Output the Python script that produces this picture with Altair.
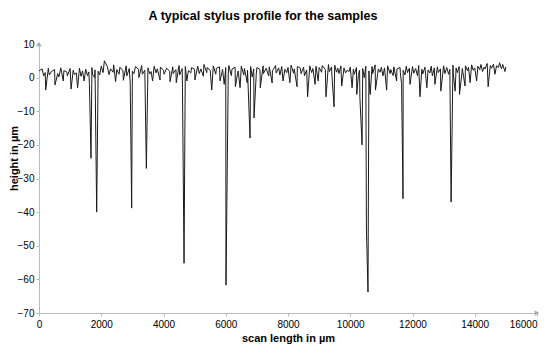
import altair as alt
import pandas as pd

# baseline profile sampled every 100 µm from 0 to 15000
base_x = list(range(0, 15001, 100))
base_y = [
    2.0, 2.6, 1.5, 2.8, 1.8, 2.4, 1.2, 2.9, 2.1, 1.6, 2.7,
    2.2, 1.4, 2.8, 2.0, 2.5, 1.7, 3.0, 2.3, 1.9, 3.4,
    5.0, 3.2, 2.6, 3.8, 2.4, 3.1, 2.0, 3.5, 2.7, 1.9,
    3.3, 2.5, 3.6, 2.2, 2.9, 1.8, 3.4, 2.6, 3.1, 2.2,
    2.8, 1.9, 3.2, 2.4, 3.6, 2.7, 3.3, 2.1, 3.0, 2.5,
    3.4, 2.6, 3.9, 3.0, 2.2, 3.5, 2.8, 3.2, 2.4, 3.0,
    3.6, 2.5, 3.1, 2.0, 3.4, 2.7, 2.2, 3.3, 2.6, 3.0,
    2.4, 3.5, 2.8, 3.2, 2.1, 3.6, 2.9, 3.3, 2.5, 3.0,
    3.7, 2.6, 3.3, 2.8, 3.1, 2.3, 3.5, 2.7, 3.4, 3.0,
    3.6, 2.4, 3.9, 3.2, 3.7, 2.8, 3.5, 2.9, 2.2, 3.1,
    2.5, 3.0, 2.2, 2.7, 3.4, 2.0, 3.3, 3.8, 2.6, 3.1,
    2.9, 3.5, 2.4, 3.2, 2.6, 3.0, 2.2, 3.4, 2.8, 3.3,
    2.7, 3.6, 2.5, 3.1, 2.3, 3.4, 2.9, 3.2, 2.6, 3.5,
    3.0, 2.4, 3.7, 2.9, 3.3, 2.7, 3.5, 3.1, 3.8, 2.9,
    3.4, 3.9, 3.1, 4.2, 3.6, 4.0, 3.5, 4.4, 3.9, 3.2,
]

# pits and dips read from the profile (position µm, height µm)
dip_x = [
    150, 215, 330, 514, 640, 780, 910, 1030, 1140, 1240, 1350, 1450, 1560, 1620,
    1671, 1720, 1790, 1853, 1950, 2060, 2250, 2380, 2460, 2570, 2710, 2820, 2930,
    2977, 3050, 3210, 3320, 3449, 3560, 3650, 3760, 3890, 4020, 4210, 4310, 4410,
    4520, 4610, 4660, 4750, 4880, 5010, 5150, 5280, 5390, 5550, 5680, 5815, 5950,
    6008, 6080, 6180, 6310, 6380, 6460, 6580, 6690, 6780, 6850, 6908, 6980, 7110,
    7210, 7380, 7490, 7620, 7740, 7840, 7960, 8060, 8180, 8290, 8420, 8530, 8630,
    8760, 8870, 8970, 9080, 9220, 9330, 9410, 9480, 9560, 9640, 9725, 9850, 9960,
    10060, 10130, 10210, 10260, 10310, 10380, 10450, 10520, 10570, 10610, 10640,
    10720, 10810, 10880, 10960, 11050, 11170, 11280, 11380, 11490, 11610, 11650,
    11695, 11760, 11840, 11920, 12040, 12160, 12240, 12330, 12460, 12560, 12640,
    12720, 12830, 12910, 13040, 13160, 13240, 13310, 13370, 13440, 13510, 13590,
    13690, 13770, 13850, 13950, 14060, 14160, 14250, 14330, 14430, 14540, 14650,
    14760, 14860, 14970,
]
dip_y = [
    0.5, -3.7, 0.8, -2.2, 0.2, -1.0, 0.5, -3.4, 0.9, -3.0, 0.4, -1.0, 0.6, -2.0,
    -24.0, 1.0, 0.0, -40.0, 0.8, 1.5, 0.9, 1.6, -1.2, 1.0, -0.8, 0.5, -1.5,
    -38.8, 1.2, 0.0, 1.0, -27.0, 1.1, -1.0, 1.4, -0.7, 1.0, -1.2, 1.2, -1.5,
    0.8, -3.0, -55.2, -1.0, 1.4, -0.7, 1.2, 0.4, 1.5, -3.7, 1.0, -1.0, -2.0,
    -61.7, 1.0, 0.6, -2.7, 1.2, -3.0, 0.8, -1.5, -18.0, 0.2, -12.0, 1.0, -3.0,
    1.2, 0.5, -1.6, 1.4, 0.8, -1.0, 1.5, -1.5, 1.3, -2.7, 1.2, 0.6, -5.7,
    1.5, -2.0, -1.0, 1.6, -5.7, 1.8, 0.8, -8.7, 1.6, 1.2, -2.5, 1.4, 1.8,
    -3.0, 1.0, -5.0, 0.6, -6.0, -20.0, 0.0, -45.0, -63.8, -1.0, -5.0,
    1.2, -3.7, 1.0, 1.6, 0.5, -3.7, 1.2, 0.6, -1.0, 1.4, -2.0,
    -36.0, 0.8, 1.5, -2.0, 1.3, 0.6, -5.7, 1.1, -3.0, 1.4, 0.5,
    -2.0, 1.5, -4.0, 1.2, 1.0, -37.0, 1.1, -4.0, 1.5, -5.0, 1.6,
    -2.5, 2.0, -1.5, 2.2, -1.0, 2.4, 1.8, 2.6, -2.7, 2.8, 1.0,
    3.0, 2.6, 1.8,
]

x_ticks = [0, 2000, 4000, 6000, 8000, 10000, 12000, 14000, 16000]
y_ticks = [-70, -60, -50, -40, -30, -20, -10, 0, 10]

df = pd.concat([
    pd.DataFrame({"x": dip_x, "y": dip_y}),
    pd.DataFrame({"x": base_x, "y": base_y}),
]).drop_duplicates(subset="x", keep="first").sort_values("x")

arrows = pd.DataFrame({"x": [0, 16000], "y": [10, -70], "shape": ["triangle-up", "triangle-right"]})

FONT = "Liberation Sans, Arial, sans-serif"

xs = alt.Scale(domain=[0, 16000], nice=False)
ys = alt.Scale(domain=[-70, 10], nice=False)

x_axis = alt.Axis(
    values=x_ticks, title="scan length in µm", format="d",
    labelFont=FONT, labelFontSize=10, labelColor="#000",
    labelAlign={"expr": "datum.value == 16000 ? 'right' : 'center'"},
    titleFont=FONT, titleFontSize=11, titleFontWeight="bold", titleColor="#000",
    domainColor="#bbbbbb", tickColor="#bbbbbb", tickSize=3, labelPadding=3,
    titlePadding=3, grid=False, labelFlush=False, labelOverlap=False)
y_axis = alt.Axis(
    values=y_ticks, title="height in µm", format="d",
    labelFont=FONT, labelFontSize=10, labelColor="#000",
    titleFont=FONT, titleFontSize=11, titleFontWeight="bold", titleColor="#000",
    domainColor="#bbbbbb", tickColor="#bbbbbb", tickSize=3, labelPadding=2,
    titleX=-25, titleY=114, titleBaseline="middle", grid=False,
    labelOverlap=False)

line = alt.Chart(df).mark_line(color="#1a1a1a", strokeWidth=1).encode(
    x=alt.X("x:Q", scale=xs, axis=x_axis),
    y=alt.Y("y:Q", scale=ys, axis=y_axis),
)

arrow = alt.Chart(arrows).mark_point(filled=True, color="#aaaaaa", size=30, opacity=1).encode(
    x=alt.X("x:Q", scale=xs, axis=x_axis),
    y=alt.Y("y:Q", scale=ys, axis=y_axis),
    shape=alt.Shape("shape:N", scale=None),
)

chart = alt.layer(line, arrow).properties(
    width=498, height=269,
    title=alt.TitleParams("A typical stylus profile for the samples", font=FONT,
                          fontSize=12.5, fontWeight="bold", color="#000",
                          anchor="middle", dx=-25, offset=17),
    autosize=alt.AutoSizeParams(type="none"),
    padding={"left": 31, "top": 36, "right": 4, "bottom": 36},
).configure_view(stroke=None)

chart.save("out.html", embed_options={"renderer": "svg", "actions": False})
